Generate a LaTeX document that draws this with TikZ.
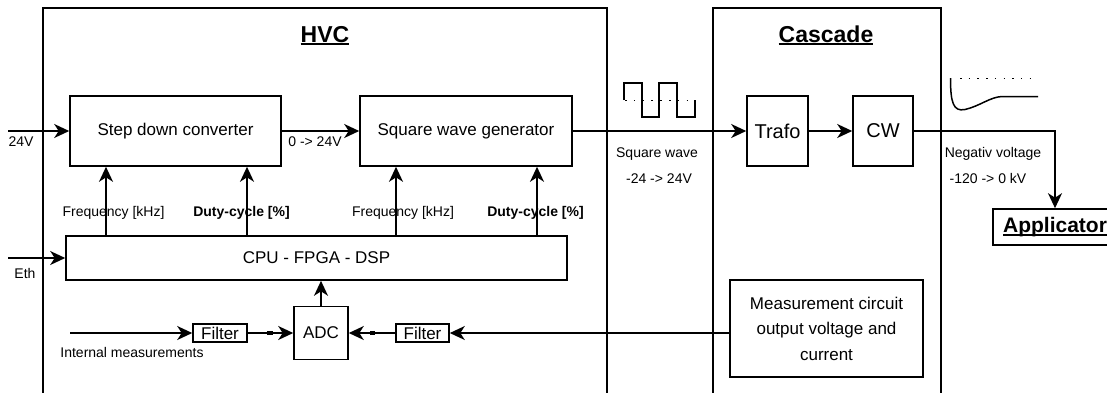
\documentclass[tikz,border=0pt]{standalone}
\usepackage{fontspec}
\setmainfont{Liberation Sans}
\usetikzlibrary{arrows.meta}

\newsavebox{\ulbox}
\newcommand{\ulbold}[1]{\sbox{\ulbox}{\bfseries #1}\usebox{\ulbox}\llap{\rule[-3.2pt]{\wd\ulbox}{1.8pt}}}

\begin{document}
\begin{tikzpicture}[x=1pt, y=-1pt, >={Stealth[length=15pt, width=14pt, inset=4.5pt]}, line width=1.6pt,
  block/.style={draw, line width=1.6pt, inner sep=0pt, align=center,
                font=\fontsize{17}{25.5}\selectfont},
  bigblock/.style={block, font=\fontsize{20}{24}\selectfont},
  lbl/.style={inner sep=0pt, anchor=base, font=\fontsize{14}{16}\selectfont},
  boldlbl/.style={lbl, font=\fontsize{14}{16}\selectfont\bfseries},
  title/.style={inner sep=0pt, anchor=base, font=\fontsize{23}{26}\selectfont}
]

\useasboundingbox (0,0) rectangle (1107,392);

% Frames
\draw (43,400) |- (607,8) -- (607,400);
\draw (713,400) |- (941,8) -- (941,400);
\node[title] (hvc-title) at (325,42) {\ulbold{HVC}};
\node[title] (cascade-title) at (826,42) {\ulbold{Cascade}};

% HVC blocks
\node[block, minimum width=211pt, minimum height=70pt] (step-down) at (175.5,131) {Step down converter};
\node[block, minimum width=212pt, minimum height=70pt] (sq-gen) at (466,131) {Square wave generator};
\node[block, minimum width=501pt, minimum height=44pt] (cpu) at (316.5,258) {CPU - FPGA - DSP};
\node[block, minimum width=54pt, minimum height=53pt] (adc) at (321,333) {ADC};
\node[block, minimum width=54pt, minimum height=18pt] (filter-int) at (220,333) {Filter};
\node[block, minimum width=53pt, minimum height=18pt] (filter-ext) at (422.5,333) {Filter};

% Cascade blocks
\node[bigblock, minimum width=61pt, minimum height=70pt] (trafo) at (777.5,131) {Trafo};
\node[bigblock, minimum width=60pt, minimum height=70pt] (cw) at (883,131) {CW};
\node[block, minimum width=193pt, minimum height=97pt] (meas) at (826.5,328.5)
  {Measurement circuit\\output voltage and\\current};
\node[block, minimum width=124pt, minimum height=36pt, font=\fontsize{21}{24}\selectfont]
  (applicator) at (1055,227) {\ulbold{Applicator}};

% Inputs
\coordinate (in-24) at (8,131);
\coordinate (in-eth) at (8,258);
\coordinate (in-int) at (70,333);
\draw[->] (in-24) -- (step-down.west);
\node[lbl] (lbl-24) at (21,146) {24V};
\draw[->] (in-eth) -- (cpu.west);
\node[lbl] (lbl-eth) at (25,278) {Eth};
\draw[->] (in-int) -- (filter-int.west);
\node[lbl] (lbl-int) at (132,357) {Internal measurements};

% Power path
\draw[->] (step-down.east) -- (sq-gen.west);
\node[lbl] (lbl-dc) at (315,146) {0 -> 24V};
\draw[->] (sq-gen.east) -- (trafo.west);
\node[lbl] (lbl-sq1) at (657,157.5) {Square wave};
\node[lbl] (lbl-sq2) at (659,183) {-24 -> 24V};
\draw[->] (trafo.east) -- (cw.west);
\draw[->] (cw.east) -| (applicator.north);
\node[lbl] (lbl-neg1) at (993,157.5) {Negativ voltage};
\node[lbl] (lbl-neg2) at (988,183) {-120 -> 0 kV};

% Control signals
\coordinate (f-sd) at (106,0);
\coordinate (d-sd) at (247,0);
\coordinate (f-sq) at (396,0);
\coordinate (d-sq) at (537,0);
\draw[->] (f-sd |- cpu.north) -- (f-sd |- step-down.south);
\draw[->] (d-sd |- cpu.north) -- (d-sd |- step-down.south);
\draw[->] (f-sq |- cpu.north) -- (f-sq |- sq-gen.south);
\draw[->] (d-sq |- cpu.north) -- (d-sq |- sq-gen.south);
\node[lbl] (lbl-f-sd) at (113.5,216) {Frequency [kHz]};
\node[boldlbl] (lbl-d-sd) at (241.5,216) {Duty-cycle [\%]};
\node[lbl] (lbl-f-sq) at (403,216) {Frequency [kHz]};
\node[boldlbl] (lbl-d-sq) at (535.5,216) {Duty-cycle [\%]};

% Measurement path
\draw[->] (filter-int.east) -- (adc.west);
\fill (267,331.3) rectangle (273,334.7);
\draw[->] (filter-ext -| meas.west) -- (filter-ext.east);
\draw[->] (filter-ext.west) -- (adc.east);
\fill (370,331.3) rectangle (375,334.7);
\draw[->] (adc.north) -- (adc.north |- cpu.south);

% Square wave sketch
\draw[line width=1.5pt] (624,100) -- (624,83) -- (642,83) -- (642,117) -- (659,117) -- (659,83)
  -- (677,83) -- (677,117) -- (695,117) -- (695,100);
\draw[line width=1.5pt, dash pattern=on 1.5pt off 7.3pt] (625,100.5) -- (695,100.5);

% Output voltage sketch
\draw[line width=1.5pt] (950.5,78) .. controls (950.5,102) and (953,112) .. (965,109.5)
  .. controls (980,106) and (990,97) .. (1002,96.5) -- (1038,96.5);
\draw[line width=1.5pt, dash pattern=on 1.5pt off 7.2pt] (960,78.3) -- (1033,78.3);

\end{tikzpicture}
\end{document}
